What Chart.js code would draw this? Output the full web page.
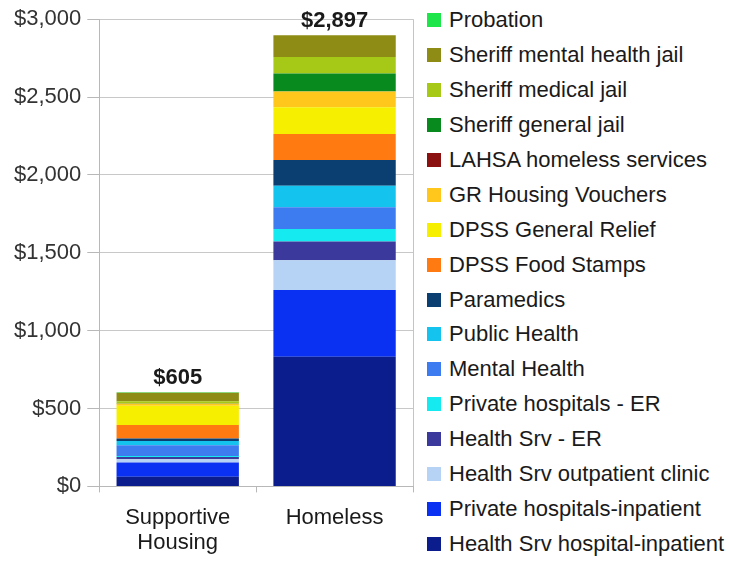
<!DOCTYPE html>
<html>
<head>
<meta charset="utf-8">
<script src="https://cdn.jsdelivr.net/npm/chart.js@4.4.0/dist/chart.umd.min.js"></script>
<style>
  body { margin: 0; background: #fff; font-family: "Liberation Sans", Arial, sans-serif; }
  #wrap { position: relative; width: 730px; height: 561px; overflow: hidden; }
  #chartBox { position: absolute; left: 0; top: 0; width: 414px; height: 561px; }
  #legend { position: absolute; left: 427px; top: 3px; }
  .item { display: flex; align-items: center; height: 34.9px; font-size: 22px; color: #1a1a1a; white-space: nowrap; }
  .swatch { width: 14px; height: 14px; margin-right: 8px; flex: none; }
</style>
</head>
<body>
<div id="wrap">
  <div id="chartBox"><canvas id="costChart"></canvas></div>
  <div id="legend"></div>
</div>
<script>
// stacked from the bottom up
const categories = [["Supportive", "Housing"], "Homeless"];
const seriesNames = [
  "Health Srv hospital-inpatient",
  "Private hospitals-inpatient",
  "Health Srv outpatient clinic",
  "Health Srv - ER",
  "Private hospitals - ER",
  "Mental Health",
  "Public Health",
  "Paramedics",
  "DPSS Food Stamps",
  "DPSS General Relief",
  "GR Housing Vouchers",
  "LAHSA homeless services",
  "Sheriff general jail",
  "Sheriff medical jail",
  "Sheriff mental health jail",
  "Probation"
];
const seriesColors = [
  "#0b1c8c", "#0a30f2", "#b6d3f5", "#3b3a9c", "#14eaf0", "#3c7cf0",
  "#14c4ee", "#0b3f72", "#ff7a10", "#f7ef00", "#ffc61c", "#8b1010",
  "#088a1e", "#a6c816", "#8e8c14", "#1ee64a"
];
const supportiveValues = [62, 92, 21, 13, 8, 69, 26, 17, 86, 124, 15, 0, 3, 10, 56, 3];
const homelessValues = [833, 428, 191, 121, 80, 139, 139, 165, 167, 171, 101, 0, 116, 106, 140, 0];
const yTicks = [0, 500, 1000, 1500, 2000, 2500, 3000];

const totals = [supportiveValues, homelessValues].map(arr => arr.reduce((a, b) => a + b, 0));
const money = v => "$" + v.toLocaleString("en-US");
const fontFamily = '"Liberation Sans", Arial, sans-serif';

const totalLabels = {
  id: "totalLabels",
  afterDatasetsDraw(chart) {
    const { ctx, scales: { x, y } } = chart;
    ctx.save();
    ctx.font = "bold 22px " + fontFamily;
    ctx.fillStyle = "#1a1a1a";
    ctx.textAlign = "center";
    ctx.textBaseline = "alphabetic";
    totals.forEach((t, i) => {
      ctx.fillText(money(t), x.getPixelForValue(i), y.getPixelForValue(t) - 8);
    });
    ctx.restore();
  }
};

const costChart = new Chart(document.getElementById("costChart"), {
  type: "bar",
  data: {
    labels: categories,
    datasets: seriesNames.map((name, i) => ({
      label: name,
      data: [supportiveValues[i], homelessValues[i]],
      backgroundColor: seriesColors[i],
      borderWidth: 0,
      categoryPercentage: 0.78,
      barPercentage: 1
    }))
  },
  options: {
    responsive: true,
    maintainAspectRatio: false,
    animation: false,
    layout: { padding: { left: 8, right: 1, top: 8, bottom: -8 } },
    plugins: { legend: { display: false } },
    scales: {
      x: {
        stacked: true,
        border: { color: "#b8b8b8" },
        grid: {
          offset: true,
          color: c => c.type === "tick" ? "transparent" : "#c4c4c4",
          tickColor: "#b8b8b8",
          tickLength: 6
        },
        ticks: { color: "#1a1a1a", padding: 13, font: { family: fontFamily, size: 22, lineHeight: 1.15 } }
      },
      y: {
        stacked: true,
        min: 0,
        max: 3000,
        afterBuildTicks: axis => { axis.ticks = yTicks.map(v => ({ value: v })); },
        border: { color: "#b8b8b8" },
        grid: { color: "#c8c8c8", tickColor: "#b8b8b8", tickLength: 12 },
        ticks: { color: "#333", padding: 6, font: { family: fontFamily, size: 22 }, callback: v => money(v) }
      }
    }
  },
  plugins: [totalLabels]
});

// legend lists the top segment first
const legendBox = document.getElementById("legend");
seriesNames.slice().reverse().forEach((name, k) => {
  const i = seriesNames.length - 1 - k;
  const row = document.createElement("div");
  row.className = "item";
  row.innerHTML = `<span class="swatch" style="background:${seriesColors[i]}"></span>${name}`;
  legendBox.appendChild(row);
});
</script>
</body>
</html>
